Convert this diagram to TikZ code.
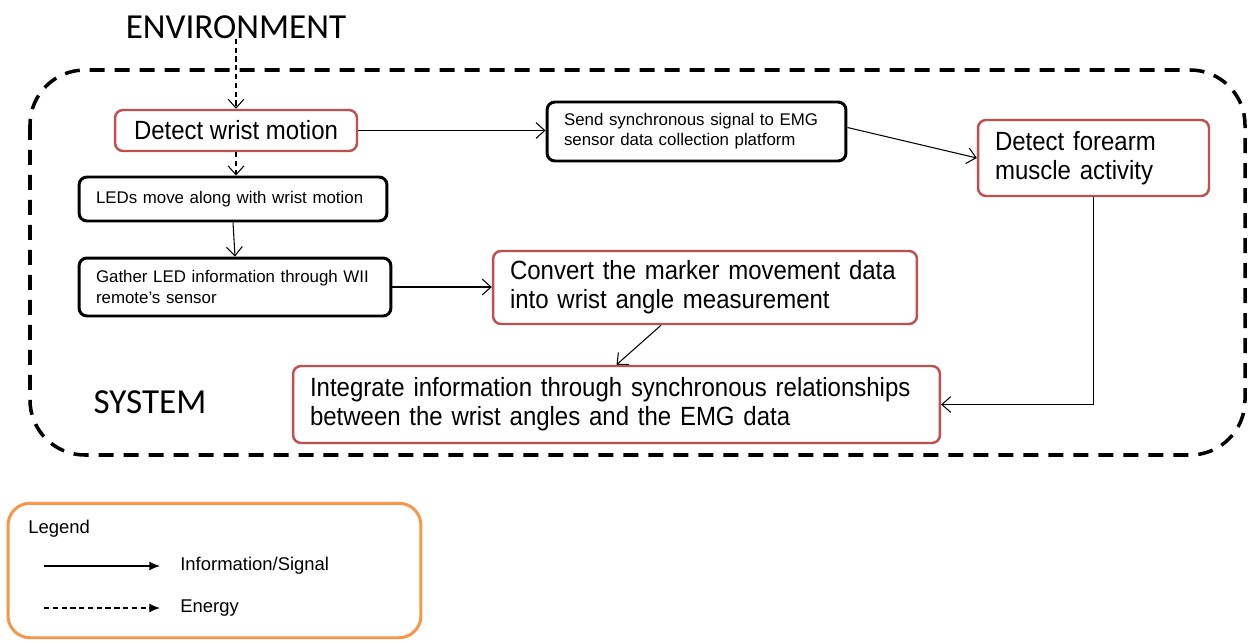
\documentclass[tikz,border=0pt]{standalone}
\usepackage{fontspec}
\setmainfont{Liberation Sans}
\newfontfamily\narrowfont[FakeStretch=0.91]{Liberation Sans}
\newfontfamily\titlefont{Carlito}
\usetikzlibrary{arrows.meta}
\definecolor{boxred}{RGB}{192,80,77}
\definecolor{legorange}{RGB}{247,150,70}
\begin{document}
\begin{tikzpicture}
		[x=0.02cm,y=-0.02cm,
		redbox/.style={draw=boxred,line width=1.4pt,rounded corners=0.16cm,fill=white,
inner xsep=0.34cm,inner ysep=0pt,align=left,font=\narrowfont\fontsize{15}{16.5}\selectfont},
		blackbox/.style={draw=black,line width=1.7pt,rounded corners=0.16cm,fill=white,
inner xsep=0.34cm,inner ysep=0pt,align=left,font=\fontsize{9.6}{11.5}\selectfont},
		titletext/.style={font=\titlefont\fontsize{20}{24}\selectfont,inner sep=0pt},
		legtext/.style={anchor=west,inner sep=0pt,font=\fontsize{10.5}{12}\selectfont},
		infoedge/.style={-{Straight Barb[length=5pt,width=9pt]},semithick},
		energyedge/.style={infoedge,dash pattern=on 3pt off 2pt}]
		\useasboundingbox (0,0) rectangle (1250,642);
		% system boundary
		\draw[line width=2pt,dash pattern=on 0.3cm off 0.2cm,rounded corners=1.1cm]
			(30,70) rectangle (1245,455);
		\node at (236,27) (env) [titletext] {ENVIRONMENT};
		\node at (150,402) (sys) [titletext] {SYSTEM};
		% boxes
		\node at (236,130.5) (detect) [redbox,minimum width=4.84cm,minimum height=0.82cm,inner xsep=0.2cm]
			{Detect wrist motion};
		\node at (233,199) (leds) [blackbox,minimum width=6.16cm,minimum height=0.88cm,text width=5.48cm]
			{LEDs move along with wrist motion};
		\node at (235,287) (gather) [blackbox,minimum width=6.24cm,minimum height=1.16cm,text width=5.56cm]
			{Gather LED information through WII\\remote’s sensor};
		\node at (696.5,131.5) (send) [blackbox,minimum width=5.98cm,minimum height=1.18cm,text width=5.3cm]
			{Send synchronous signal to EMG\\sensor data collection platform};
		\node at (1093.5,158) (forearm) [redbox,minimum width=4.62cm,minimum height=1.52cm,text width=3.94cm]
			{Detect forearm\\muscle activity};
		\node at (705,287.5) (convert) [redbox,minimum width=8.48cm,minimum height=1.46cm,text width=7.8cm]
			{Convert the marker movement data\\into wrist angle measurement};
		\node at (616.5,404.5) (integrate) [redbox,minimum width=12.94cm,minimum height=1.54cm,text width=12.26cm]
			{Integrate information through synchronous relationships\\between the wrist angles and the EMG data};
		% connectors
		\draw[energyedge] (env.south) -- (detect.north);
		\draw[energyedge] (detect.south) -- (detect.south |- leds.north);
		\draw[infoedge] (leds.south) -- (gather.north);
		\draw[infoedge] (gather.east) -- (gather.east -| convert.west);
		\draw[infoedge] (detect.east) -- (detect.east -| send.west);
		\draw[infoedge] ([yshift=0.08cm]send.east) -- (forearm.west);
		\draw[infoedge] ([xshift=-0.88cm]convert.south) -- (integrate.north);
		\draw[infoedge] (forearm.south) |- (integrate.east);
		% legend
		\node at (214.5,570.5) (legend) [draw=legorange,line width=1.7pt,rounded corners=0.44cm,
			minimum width=8.26cm,minimum height=2.69cm] {};
		\node at (28,529) (legtitle) [legtext] {Legend};
		\coordinate (infoA) at (44,566);
		\coordinate (infoB) at (160,566);
		\coordinate (enA) at (44,608);
		\coordinate (enB) at (160,608);
		\draw[-{Latex[length=6pt,width=5pt]},semithick] (infoA) -- (infoB);
		\draw[-{Latex[length=6pt,width=5pt]},semithick,dash pattern=on 3pt off 2pt] (enA) -- (enB);
		\node at (180,566) (infolabel) [legtext] {Information/Signal};
		\node at (180,608) (enlabel) [legtext] {Energy};
	\end{tikzpicture}
\end{document}
